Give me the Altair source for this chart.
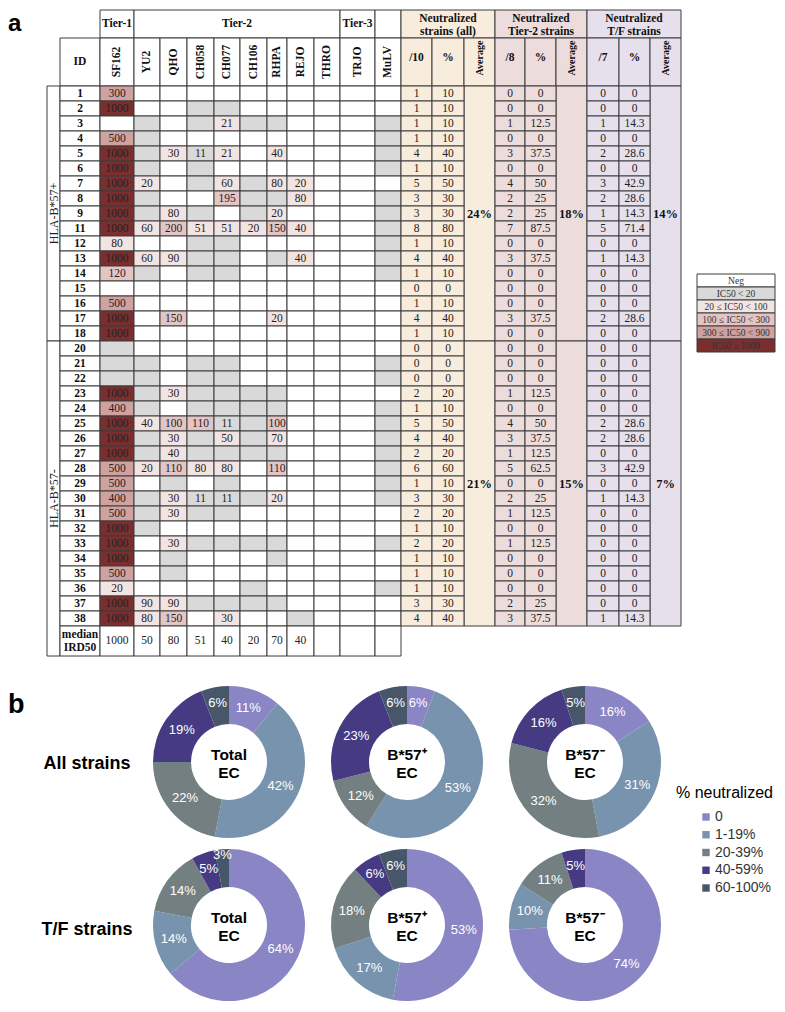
import altair as alt
import pandas as pd
import math

# ---------------- data ----------------
STRAINS = ["SF162", "YU2", "QHO", "CH058", "CH077", "CH106", "RHPA", "REJO", "THRO", "TRJO", "MuLV"]
TIER_LABELS = ["Tier-1", "Tier-2", "Tier-3", ""]
TIER_SPANS = [1, 8, 1, 1]
GROUP_LABELS = ["HLA-B*57+", "HLA-B*57-"]
NEUT_HEADERS = ["Neutralized\nstrains (all)", "Neutralized\nTier-2 strains", "Neutralized\nT/F strains"]
NEUT_SUBHEADERS = ["/10", "%", "Average", "/8", "%", "Average", "/7", "%", "Average"]

G = "<20"   # IC50 below 20, no value printed
N = None    # not neutralized

IDS_POS = [1, 2, 3, 4, 5, 6, 7, 8, 9, 11, 12, 13, 14, 15, 16, 17, 18]
IDS_NEG = [20, 21, 22, 23, 24, 25, 26, 27, 28, 29, 30, 31, 32, 33, 34, 35, 36, 37, 38]

IC50_POS = [
    [300, N, N, N, N, N, N, N, N, N, N],
    [1000, N, N, G, G, N, N, N, N, N, N],
    [N, G, N, G, 21, G, G, N, N, N, G],
    [500, G, N, N, N, N, N, N, N, N, G],
    [1000, G, 30, 11, 21, N, 40, N, N, N, G],
    [1000, G, N, G, N, N, N, N, N, N, G],
    [1000, 20, N, G, 60, G, 80, 20, N, N, N],
    [1000, G, N, N, 195, G, G, 80, N, N, G],
    [1000, G, 80, G, N, G, 20, N, N, N, G],
    [1000, 60, 200, 51, 51, 20, 150, 40, N, N, G],
    [80, N, N, G, G, N, N, N, N, N, G],
    [1000, 60, 90, G, G, N, G, 40, N, N, G],
    [120, G, N, G, G, N, N, N, N, N, G],
    [N, N, N, N, N, N, N, N, N, N, N],
    [500, N, N, N, N, N, N, N, N, N, N],
    [1000, N, 150, N, N, N, 20, N, N, N, N],
    [1000, N, N, N, N, N, N, N, N, N, N],
]
IC50_NEG = [
    [G, N, N, N, N, N, N, N, N, N, N],
    [G, G, N, G, G, N, N, N, N, N, G],
    [G, G, N, G, G, N, N, N, N, N, G],
    [1000, G, 30, G, G, G, G, N, N, N, N],
    [400, G, N, G, G, G, G, N, N, N, G],
    [1000, 40, 100, 110, 11, G, 100, N, N, N, G],
    [1000, G, 30, G, 50, G, 70, N, N, N, G],
    [1000, G, 40, G, G, G, G, N, N, N, G],
    [500, 20, 110, 80, 80, N, 110, N, N, N, G],
    [500, N, G, N, G, N, N, N, N, N, G],
    [400, G, 30, 11, 11, G, 20, N, N, N, G],
    [500, G, 30, G, G, N, N, N, N, N, N],
    [1000, G, N, N, N, N, N, N, N, N, N],
    [1000, N, 30, G, G, G, G, N, N, N, G],
    [1000, N, G, N, N, N, G, N, N, N, N],
    [500, N, G, N, N, N, N, N, N, N, N],
    [20, N, N, N, N, G, N, N, N, N, G],
    [1000, 90, 90, G, G, G, G, N, N, N, N],
    [1000, 80, 150, N, 30, N, N, G, N, N, N],
]
MEDIAN_IRD50 = [1000, 50, 80, 51, 40, 20, 70, 40, N, N, N]

ALL_N_POS = [1, 1, 1, 1, 4, 1, 5, 3, 3, 8, 1, 4, 1, 0, 1, 4, 1]
ALL_PCT_POS = [10, 10, 10, 10, 40, 10, 50, 30, 30, 80, 10, 40, 10, 0, 10, 40, 10]
T2_N_POS = [0, 0, 1, 0, 3, 0, 4, 2, 2, 7, 0, 3, 0, 0, 0, 3, 0]
T2_PCT_POS = [0, 0, 12.5, 0, 37.5, 0, 50, 25, 25, 87.5, 0, 37.5, 0, 0, 0, 37.5, 0]
TF_N_POS = [0, 0, 1, 0, 2, 0, 3, 2, 1, 5, 0, 1, 0, 0, 0, 2, 0]
TF_PCT_POS = [0, 0, 14.3, 0, 28.6, 0, 42.9, 28.6, 14.3, 71.4, 0, 14.3, 0, 0, 0, 28.6, 0]

ALL_N_NEG = [0, 0, 0, 2, 1, 5, 4, 2, 6, 1, 3, 2, 1, 2, 1, 1, 1, 3, 4]
ALL_PCT_NEG = [0, 0, 0, 20, 10, 50, 40, 20, 60, 10, 30, 20, 10, 20, 10, 10, 10, 30, 40]
T2_N_NEG = [0, 0, 0, 1, 0, 4, 3, 1, 5, 0, 2, 1, 0, 1, 0, 0, 0, 2, 3]
T2_PCT_NEG = [0, 0, 0, 12.5, 0, 50, 37.5, 12.5, 62.5, 0, 25, 12.5, 0, 12.5, 0, 0, 0, 25, 37.5]
TF_N_NEG = [0, 0, 0, 0, 0, 2, 2, 0, 3, 0, 1, 0, 0, 0, 0, 0, 0, 0, 1]
TF_PCT_NEG = [0, 0, 0, 0, 0, 28.6, 28.6, 0, 42.9, 0, 14.3, 0, 0, 0, 0, 0, 0, 0, 14.3]

AVG_ALL = ["24%", "21%"]
AVG_T2 = ["18%", "15%"]
AVG_TF = ["14%", "7%"]

IC50_BINS = ["Neg", "IC50 < 20", "20 ≤ IC50 < 100", "100 ≤ IC50 < 300", "300 ≤ IC50 < 900", "IC50 ≥ 1000"]
IC50_COLORS = ["#ffffff", "#d9d9d9", "#f3e4e4", "#e4c5c5", "#cfa19f", "#7a2e2e"]
BG_KEYS = ["bg_all", "bg_t2", "bg_tf"]
BG_COLORS = ["#f8ecdd", "#eddcdc", "#e6e0ed"]

PIE_CATS = ["0", "1-19%", "20-39%", "40-59%", "60-100%"]
PIE_COLORS = ["#8a85c4", "#7893ad", "#737f80", "#463b83", "#475669"]
PIE_ROWS = ["All strains", "T/F strains"]
PIE_CENTERS = ["Total\nEC", "B*57\u207a\nEC", "B*57\u207b\nEC"]
PIE_ALL = [[11, 42, 22, 19, 6], [6, 53, 12, 23, 6], [16, 31, 32, 16, 5]]
PIE_TF = [[64, 14, 14, 5, 3], [53, 17, 18, 6, 6], [74, 10, 11, 5, 0]]

# ---------------- layout ----------------
SERIF = "Liberation Serif"
SANS = "Liberation Sans"
W, H = 769, 678
X0, Y0 = 39, 2
COLW = [13, 40, 34, 26, 27, 27, 26, 27, 20, 27, 26, 35, 26, 31, 32, 31, 30, 31, 31, 32, 31, 31]
XB = [X0]
for w in COLW:
    XB.append(XB[-1] + w)
TIER_H, HEAD_H, ROW_H, MED_H = 28, 48, 15, 30
LINE_H = 13

XS = alt.Scale(domain=[0, W], nice=False, zero=False)
YS = alt.Scale(domain=[0, H], nice=False, zero=False, reverse=True)


def fmt(v):
    return f"{v:g}"


def ic50_cat(v):
    if v is None:
        return "Neg"
    if v == G or v < 20:
        return "IC50 < 20"
    if v < 100:
        return "20 ≤ IC50 < 100"
    if v < 300:
        return "100 ≤ IC50 < 300"
    if v < 1000:
        return "300 ≤ IC50 < 900"
    return "IC50 ≥ 1000"


rects = []
T = {k: [] for k in ["bold", "reg", "rotb", "rotr", "avg", "leg", "rotavg"]}


def R(c0, c1, y0, y1, cat):
    rects.append(dict(x=XB[c0], x2=XB[c1], y=y0, y2=y1, cat=cat))


def txt(style, c0, c1, y0, y1, t):
    n = t.count("\n") + 1
    T[style].append(dict(x=(XB[c0] + XB[c1]) / 2, y=(y0 + y1) / 2 - (n - 1) * LINE_H / 2, t=t))


# tier row
c = 2
for lab, span in zip(TIER_LABELS, TIER_SPANS):
    R(c, c + span, Y0, Y0 + TIER_H, "Neg")
    if lab:
        txt("bold", c, c + span, Y0, Y0 + TIER_H, lab)
    c += span
for i, lab in enumerate(NEUT_HEADERS):
    c0 = 13 + 3 * i
    R(c0, c0 + 3, Y0, Y0 + TIER_H, BG_KEYS[i])
    txt("bold", c0, c0 + 3, Y0 + 1, Y0 + TIER_H + 1, lab)

# header row
hy0, hy1 = Y0 + TIER_H, Y0 + TIER_H + HEAD_H
R(1, 2, hy0, hy1, "Neg")
txt("bold", 1, 2, hy0, hy1, "ID")
for j, s in enumerate(STRAINS):
    R(2 + j, 3 + j, hy0, hy1, "Neg")
    txt("rotb", 2 + j, 3 + j, hy0, hy1, s)
for j, s in enumerate(NEUT_SUBHEADERS):
    R(13 + j, 14 + j, hy0, hy1, BG_KEYS[j // 3])
    if s == "Average":
        txt("rotavg", 13 + j, 14 + j, hy0, hy1 - 8, s)
    else:
        txt("bold", 13 + j, 14 + j, hy0, hy1 - 8, s)

# data rows
groups = [
    (IDS_POS, IC50_POS, [ALL_N_POS, ALL_PCT_POS, T2_N_POS, T2_PCT_POS, TF_N_POS, TF_PCT_POS]),
    (IDS_NEG, IC50_NEG, [ALL_N_NEG, ALL_PCT_NEG, T2_N_NEG, T2_PCT_NEG, TF_N_NEG, TF_PCT_NEG]),
]
avgs = [AVG_ALL, AVG_T2, AVG_TF]
y = hy1
for g, (ids, ic50, neut) in enumerate(groups):
    gy0 = y
    gy1 = y + ROW_H * len(ids)
    gl1 = gy1 + (MED_H if g == 1 else 0)
    R(0, 1, gy0, gl1, "Neg")
    txt("rotr", 0, 1, gy0, gl1, GROUP_LABELS[g])
    for k in range(3):
        c0 = 13 + 3 * k
        R(c0 + 2, c0 + 3, gy0, gy1, BG_KEYS[k])
        txt("avg", c0 + 2, c0 + 3, gy0, gy1, avgs[k][g])
    for r, rid in enumerate(ids):
        ry0, ry1 = y, y + ROW_H
        R(1, 2, ry0, ry1, "Neg")
        txt("bold", 1, 2, ry0, ry1, str(rid))
        for j, v in enumerate(ic50[r]):
            R(2 + j, 3 + j, ry0, ry1, ic50_cat(v))
            if v is not None and v != G:
                txt("reg", 2 + j, 3 + j, ry0, ry1, fmt(v))
        for k in range(3):
            c0 = 13 + 3 * k
            R(c0, c0 + 1, ry0, ry1, BG_KEYS[k])
            txt("reg", c0, c0 + 1, ry0, ry1, fmt(neut[2 * k][r]))
            R(c0 + 1, c0 + 2, ry0, ry1, BG_KEYS[k])
            txt("reg", c0 + 1, c0 + 2, ry0, ry1, fmt(neut[2 * k + 1][r]))
        y = ry1

# median row
my0, my1 = y, y + MED_H
R(1, 2, my0, my1, "Neg")
txt("bold", 1, 2, my0, my1, "median\nIRD50")
for j, v in enumerate(MEDIAN_IRD50):
    R(2 + j, 3 + j, my0, my1, "Neg")
    if v is not None:
        txt("reg", 2 + j, 3 + j, my0, my1, fmt(v))

# IC50 colour key
LX0, LX1, LY0, LH = 689, 767, 266, 13
for i, lab in enumerate(IC50_BINS):
    rects.append(dict(x=LX0, x2=LX1, y=LY0 + i * LH, y2=LY0 + (i + 1) * LH, cat=lab))
    T["leg"].append(dict(x=(LX0 + LX1) / 2, y=LY0 + i * LH + LH / 2, t=lab))

rect_layer = alt.Chart(pd.DataFrame(rects)).mark_rect(stroke="#3c3c3c", strokeWidth=1).encode(
    x=alt.X("x:Q", scale=XS, axis=None),
    x2="x2:Q",
    y=alt.Y("y:Q", scale=YS, axis=None),
    y2="y2:Q",
    fill=alt.Fill("cat:N", scale=alt.Scale(domain=IC50_BINS + BG_KEYS, range=IC50_COLORS + BG_COLORS), legend=None),
)


def tlayer(rows, **kw):
    base = dict(font=SERIF, align="center", baseline="middle", color="#222222", lineBreak="\n",
                fontSize=12, lineHeight=LINE_H)
    base.update(kw)
    return alt.Chart(pd.DataFrame(rows)).mark_text(**base).encode(
        x=alt.X("x:Q", scale=XS, axis=None),
        y=alt.Y("y:Q", scale=YS, axis=None),
        text=alt.Text("t:N"),
    )


layers = [
    rect_layer,
    tlayer(T["bold"], fontWeight="bold", color="#111111", fontSize=11.5),
    tlayer(T["reg"], fontSize=11.5),
    tlayer(T["rotb"], fontWeight="bold", angle=270, color="#111111", fontSize=11.5),
    tlayer(T["rotavg"], fontWeight="bold", angle=270, color="#111111", fontSize=10),
    tlayer(T["rotr"], angle=270, fontSize=12),
    tlayer(T["avg"], fontWeight="bold", fontSize=12.5, color="#111111"),
    tlayer(T["leg"], fontSize=9.5, color="#333333"),
    tlayer([dict(x=0, y=23, t="a")], font=SANS, fontWeight="bold", fontSize=24, align="left",
           baseline="alphabetic", color="black"),
]
top = alt.layer(*layers).properties(width=W, height=H)

# ---------------- donuts ----------------
PIE_SIZE = 152
ROW_GAP = 11
color_scale = alt.Scale(domain=PIE_CATS, range=PIE_COLORS)
theta_scale = alt.Scale(domain=[0, 100], range=[0, 2 * math.pi])


def label_radius(v):
    if v < 4:
        return 70
    if v <= 6:
        return 60
    return 57


def donut(vals, center):
    starts, ends, acc = [], [], 0
    for v in vals:
        starts.append(acc)
        acc += v
        ends.append(acc)
    total = acc
    df = pd.DataFrame({
        "cat": PIE_CATS,
        "t0": [s * 100 / total for s in starts],
        "t1": [e * 100 / total for e in ends],
        "lab": [f"{v}%" if v > 0 else "" for v in vals],
        "r": [label_radius(v) for v in vals],
    })
    df["tm"] = (df["t0"] + df["t1"]) / 2
    arcs = alt.Chart(df).mark_arc(innerRadius=38, outerRadius=76).encode(
        theta=alt.Theta("t0:Q", scale=theta_scale, stack=None),
        theta2="t1:Q",
        color=alt.Color("cat:N", scale=color_scale, legend=None),
    )
    labels = alt.Chart(df).mark_text(fontSize=13, font=SANS, color="white").encode(
        theta=alt.Theta("tm:Q", scale=theta_scale, stack=None),
        radius=alt.Radius("r:Q", scale=None),
        text="lab:N",
    )
    ctext = alt.Chart(pd.DataFrame({"t": [center]})).mark_text(
        font=SANS, fontSize=15.5, fontWeight="bold", lineBreak="\n", lineHeight=18, color="black", dy=-7
    ).encode(text="t:N")
    return alt.layer(arcs, labels, ctext).properties(width=PIE_SIZE, height=PIE_SIZE)


row1 = alt.hconcat(*[donut(v, c) for v, c in zip(PIE_ALL, PIE_CENTERS)], spacing=26)
row2 = alt.hconcat(*[donut(v, c) for v, c in zip(PIE_TF, PIE_CENTERS)], spacing=26)
grid = alt.vconcat(row1, row2, spacing=ROW_GAP)
BH = PIE_SIZE * 2 + ROW_GAP

row_scale = alt.Scale(type="point", domain=PIE_ROWS, range=[78, 244], padding=0)
row_labels = alt.Chart(pd.DataFrame({"row": PIE_ROWS})).mark_text(
    font=SANS, fontSize=18, fontWeight="bold", color="black"
).encode(x=alt.value(79), y=alt.Y("row:N", scale=row_scale, axis=None), text="row:N")
b_label = alt.Chart(pd.DataFrame({"t": ["b"]})).mark_text(
    font=SANS, fontSize=27, fontWeight="bold", align="left", baseline="alphabetic", color="black"
).encode(x=alt.value(0), y=alt.value(27), text="t:N")
left = alt.layer(b_label, row_labels).properties(width=145, height=BH)

leg_scale = alt.Scale(type="point", domain=PIE_CATS, range=[131, 202], padding=0)
leg_df = pd.DataFrame({"cat": PIE_CATS})
leg_sq = alt.Chart(leg_df).mark_square(size=55, opacity=1).encode(
    x=alt.value(45), y=alt.Y("cat:N", scale=leg_scale, axis=None),
    color=alt.Color("cat:N", scale=color_scale, legend=None),
)
leg_txt = alt.Chart(leg_df).mark_text(font=SANS, fontSize=14, align="left", color="#333333").encode(
    x=alt.value(54), y=alt.Y("cat:N", scale=leg_scale, axis=None), text="cat:N"
)
leg_title = alt.Chart(pd.DataFrame({"t": ["% neutralized"]})).mark_text(
    font=SANS, fontSize=16, align="left", color="black"
).encode(x=alt.value(15), y=alt.value(107), text="t:N")
right = alt.layer(leg_title, leg_sq, leg_txt).properties(width=116, height=BH)

bottom = alt.hconcat(left, grid, right, spacing=0)

chart = alt.vconcat(top, bottom, spacing=0).properties(
    padding=0, background="white"
).configure_view(stroke=None)

chart.save("out.html", embed_options={"renderer": "svg", "actions": False})
